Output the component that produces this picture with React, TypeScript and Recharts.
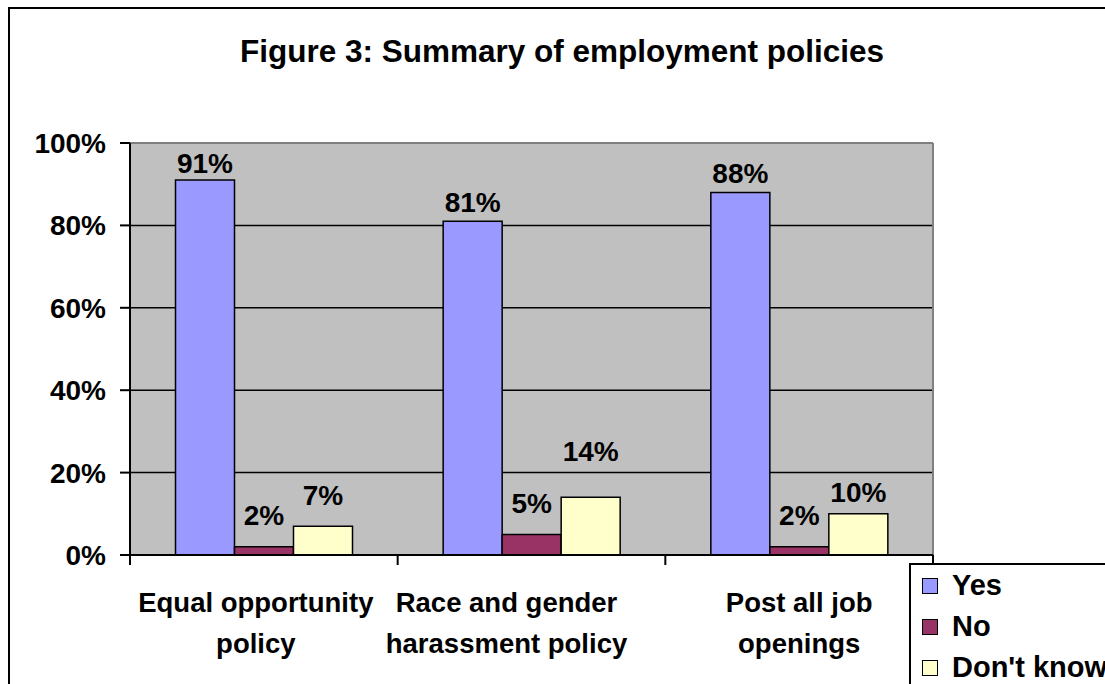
import React from 'react';
import { BarChart, Bar, XAxis, YAxis, CartesianGrid, LabelList } from 'recharts';

// policy names, split across two lines under each group
const categories = [
  ['Equal opportunity', 'policy'],
  ['Race and gender', 'harassment policy'],
  ['Post all job', 'openings'],
];

const yesValues = [0.91, 0.81, 0.88];
const noValues = [0.02, 0.05, 0.02];
const dontKnowValues = [0.07, 0.14, 0.1];

const yTicks = [0, 0.2, 0.4, 0.6, 0.8, 1];

const series = [
  { key: 'yes', name: 'Yes', color: '#9999FF' },
  { key: 'no', name: 'No', color: '#993366' },
  { key: 'dk', name: "Don't know", color: '#FFFFCC' },
];

const data = categories.map((lines, i) => ({
  name: lines.join(' '),
  lines,
  yes: yesValues[i],
  no: noValues[i],
  dk: dontKnowValues[i],
}));

const FONT = '"Liberation Sans", Arial, sans-serif';

// how far each value label sits above its bar (label centre)
const labelLift: Record<string, number[]> = {
  yes: [17, 19, 19],
  no: [32, 31, 32],
  dk: [31, 46, 22],
};
// nudges for the category captions
const captionShift = [-8, -25, 0];

const pct = (v: number) => `${Math.round(v * 100)}%`;

const makeLabel = (key: string) => (props: any) => {
  const { x, y, width, value, index } = props;
  const lift = labelLift[key][index] ?? 16;
  return (
    <text
      x={x + width / 2}
      y={y - lift}
      dy="0.35em"
      textAnchor="middle"
      fontFamily={FONT}
      fontWeight="bold"
      fontSize={28}
      fill="#000"
    >
      {pct(value)}
    </text>
  );
};

const CategoryTick = (props: any) => {
  const { x, y, payload, index } = props;
  const half = payload?.offset ?? 0;
  const lines: string[] = categories[payload.index ?? index] || [String(payload.value)];
  const cx = x + (captionShift[index] ?? 0);
  return (
    <g>
      <line x1={x - half} y1={y} x2={x - half} y2={y + 10} stroke="#000" strokeWidth={2} />
      {index === categories.length - 1 && (
        <line x1={x + half} y1={y} x2={x + half} y2={y + 10} stroke="#000" strokeWidth={2} />
      )}
      <text textAnchor="middle" fontFamily={FONT} fontWeight="bold" fontSize={27.5} fill="#000">
        {lines.map((t, i) => (
          <tspan key={i} x={cx} y={y + 57 + i * 41}>
            {t}
          </tspan>
        ))}
      </text>
    </g>
  );
};

// black grid lines, but the top edge (with the right edge) of the plot is grey
const GridLine = (p: any) => {
  const isTop = Math.abs(p.y1 - p.y) < 0.5;
  if (isTop) {
    return (
      <g key={p.key}>
        <line x1={p.x1} y1={p.y1} x2={p.x2} y2={p.y2} stroke="#808080" strokeWidth={2} />
        <line x1={p.x2} y1={p.y} x2={p.x2} y2={p.y + p.height} stroke="#808080" strokeWidth={2} />
      </g>
    );
  }
  return <line key={p.key} x1={p.x1} y1={p.y1} x2={p.x2} y2={p.y2} stroke="#000" strokeWidth={1.5} />;
};

export default function App() {
  return (
    <div
      style={{
        position: 'fixed',
        left: 0,
        top: 0,
        width: 1105,
        height: 684,
        overflow: 'hidden',
        background: '#fff',
        fontFamily: FONT,
      }}
    >
      <div
        style={{
          position: 'absolute',
          left: 8,
          top: 7,
          width: 1200,
          height: 800,
          border: '2px solid #000',
        }}
      />
      <div
        style={{
          position: 'absolute',
          left: 562,
          top: 35,
          transform: 'translateX(-50%)',
          whiteSpace: 'nowrap',
          fontSize: 31.5,
          lineHeight: '32px',
          fontWeight: 'bold',
          color: '#000',
        }}
      >
        Figure 3: Summary of employment policies
      </div>
      <div style={{ position: 'absolute', left: 0, top: 0 }}>
        <BarChart
          width={1105}
          height={684}
          data={data}
          margin={{ top: 143, right: 172, bottom: 29, left: 10 }}
          barCategoryGap="17%"
          barGap={0}
        >
          <CartesianGrid fill="#C0C0C0" vertical={false} horizontal={GridLine} />
          <XAxis
            dataKey="name"
            height={100}
            interval={0}
            tickSize={0}
            tickMargin={0}
            tickLine={false}
            axisLine={{ stroke: '#000', strokeWidth: 2 }}
            tick={<CategoryTick />}
          />
          <YAxis
            width={120}
            domain={[0, 1]}
            ticks={yTicks}
            tickFormatter={pct}
            tickSize={10}
            tickMargin={14}
            tickLine={{ stroke: '#000', strokeWidth: 2 }}
            axisLine={{ stroke: '#000', strokeWidth: 2 }}
            tick={{ fill: '#000', fontSize: 28, fontWeight: 'bold', fontFamily: FONT }}
          />
          {series.map((s) => (
            <Bar
              key={s.key}
              dataKey={s.key}
              name={s.name}
              fill={s.color}
              stroke="#000"
              strokeWidth={1.5}
              isAnimationActive={false}
            >
              <LabelList dataKey={s.key} content={makeLabel(s.key)} />
            </Bar>
          ))}
        </BarChart>
      </div>
      <div
        style={{
          position: 'absolute',
          left: 909,
          top: 563,
          width: 300,
          height: 200,
          border: '2px solid #000',
          background: '#fff',
        }}
      >
        {series.map((s) => (
          <div
            key={s.key}
            style={{
              height: 41,
              display: 'flex',
              alignItems: 'center',
              fontSize: 29,
              fontWeight: 'bold',
              whiteSpace: 'nowrap',
            }}
          >
            <span
              style={{
                display: 'inline-block',
                width: 14,
                height: 14,
                marginLeft: 11,
                marginRight: 14,
                background: s.color,
                border: '1.5px solid #000',
              }}
            />
            {s.name}
          </div>
        ))}
      </div>
    </div>
  );
}
